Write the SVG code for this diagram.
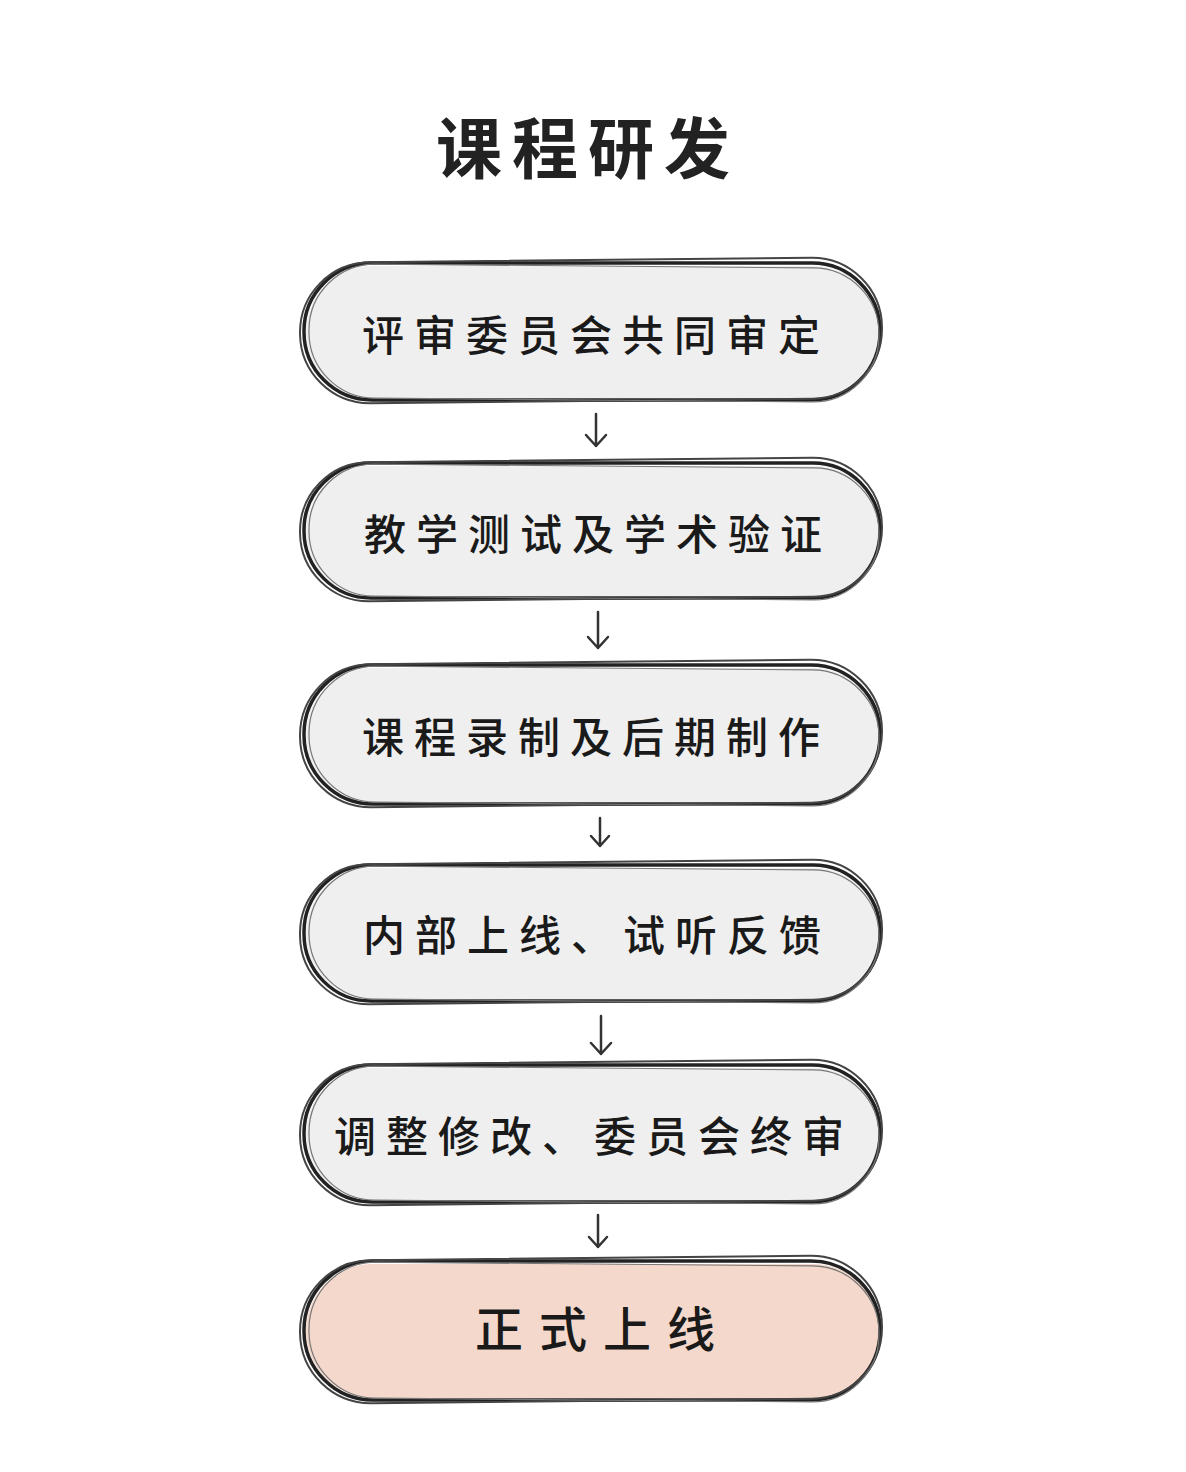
<svg xmlns="http://www.w3.org/2000/svg" width="1186" height="1472" viewBox="0 0 1186 1472">
<style>
.bg{fill:#ffffff}
.fill{fill:#efefef;stroke:none}
.fin{fill:#f4d8cb;stroke:none}
.o1{fill:none;stroke:#222;stroke-width:3.5}
.o2{fill:none;stroke:#444;stroke-width:2}
.o3{fill:none;stroke:#777;stroke-width:1.2}
.t{font-family:"Noto Sans CJK SC","Noto Sans CJK JP",sans-serif;font-size:42px;font-weight:500;fill:#1a1a1a;text-anchor:middle;dominant-baseline:central;letter-spacing:10px}
.tf{font-size:48px;letter-spacing:16px}
.title{font-family:"Noto Sans CJK SC",sans-serif;font-size:66px;font-weight:bold;fill:#222;text-anchor:middle;letter-spacing:10px}
.ar{fill:none;stroke:#333;stroke-width:2.5;stroke-linecap:round;stroke-linejoin:round}
</style>
<rect class="bg" x="0" y="0" width="1186" height="1472"/>
<text class="title" x="588" y="173">课程研发</text>
<g id="n1">
<rect class="fill" x="306" y="266" width="574" height="132" rx="66"/>
<rect class="o1" x="304" y="263" width="576" height="137" rx="68"/>
<rect class="o2" x="300" y="260" width="582" height="141" rx="70" transform="rotate(-0.6 591 330)"/>
<rect class="o3" x="309" y="266" width="570" height="134" rx="66" transform="rotate(0.5 591 330)"/>
<text class="t" x="596" y="332">评审委员会共同审定</text>
</g>
<g id="n2">
<rect class="fill" x="306" y="466" width="574" height="130" rx="65"/>
<rect class="o1" x="304" y="463" width="576" height="135" rx="67"/>
<rect class="o2" x="300" y="460" width="582" height="139" rx="69" transform="rotate(-0.6 591 530)"/>
<rect class="o3" x="309" y="466" width="570" height="132" rx="65" transform="rotate(0.5 591 530)"/>
<text class="t" x="598" y="531">教学测试及学术验证</text>
</g>
<g id="n3">
<rect class="fill" x="306" y="668" width="574" height="134" rx="67"/>
<rect class="o1" x="304" y="665" width="576" height="139" rx="69"/>
<rect class="o2" x="300" y="662" width="582" height="143" rx="71" transform="rotate(-0.6 591 734)"/>
<rect class="o3" x="309" y="668" width="570" height="136" rx="67" transform="rotate(0.5 591 734)"/>
<text class="t" x="596" y="734">课程录制及后期制作</text>
</g>
<g id="n4">
<rect class="fill" x="306" y="868" width="574" height="131" rx="65"/>
<rect class="o1" x="304" y="865" width="576" height="136" rx="67"/>
<rect class="o2" x="300" y="862" width="582" height="140" rx="69" transform="rotate(-0.6 591 932)"/>
<rect class="o3" x="309" y="868" width="570" height="133" rx="66" transform="rotate(0.5 591 932)"/>
<text class="t" x="597" y="932">内部上线、试听反馈</text>
</g>
<g id="n5">
<rect class="fill" x="306" y="1068" width="574" height="132" rx="66"/>
<rect class="o1" x="304" y="1065" width="576" height="137" rx="68"/>
<rect class="o2" x="300" y="1062" width="582" height="141" rx="70" transform="rotate(-0.6 591 1133)"/>
<rect class="o3" x="309" y="1068" width="570" height="134" rx="66" transform="rotate(0.5 591 1133)"/>
<text class="t" x="594" y="1133">调整修改、委员会终审</text>
</g>
<g id="n6">
<rect class="fin" x="306" y="1264" width="574" height="134" rx="67"/>
<rect class="o1" x="304" y="1261" width="576" height="139" rx="69"/>
<rect class="o2" x="300" y="1258" width="582" height="143" rx="71" transform="rotate(-0.6 591 1330)"/>
<rect class="o3" x="309" y="1264" width="570" height="136" rx="67" transform="rotate(0.5 591 1330)"/>
<text class="t tf" x="603" y="1326">正式上线</text>
</g>
<g id="connectors">
<path class="ar" d="M596 414 L596 446 M586 435 L596 446 L606 435"/>
<path class="ar" d="M598 612 L598 648 M588 637 L598 648 L608 637"/>
<path class="ar" d="M600 818 L600 846 M591 836 L600 846 L609 836"/>
<path class="ar" d="M601 1016 L601 1054 M591 1043 L601 1054 L611 1043"/>
<path class="ar" d="M598 1215 L598 1247 M589 1237 L598 1247 L607 1237"/>
</g>
</svg>
